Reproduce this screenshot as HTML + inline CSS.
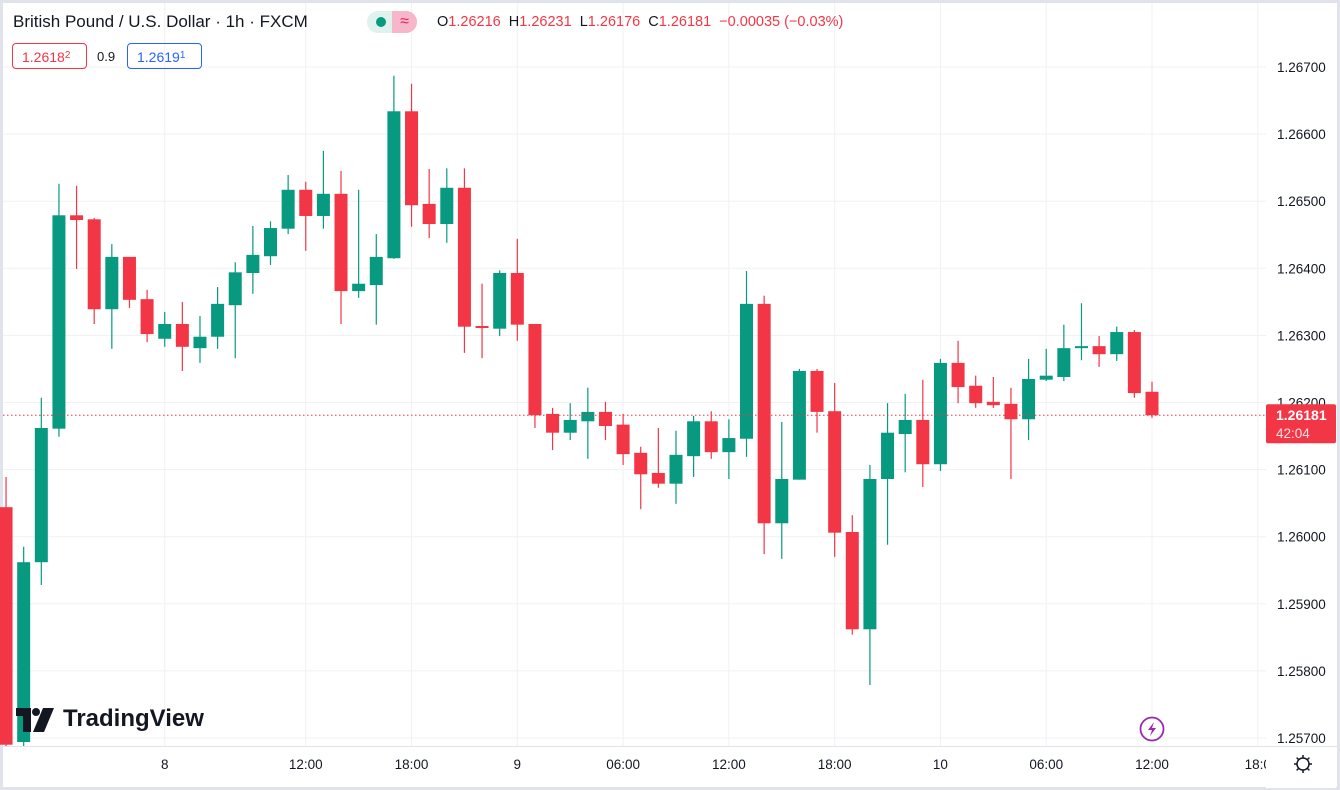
<!DOCTYPE html>
<html><head><meta charset="utf-8">
<style>
html,body{margin:0;padding:0;background:#fff;}
body{width:1340px;height:790px;overflow:hidden;position:relative;font-family:"Liberation Sans",sans-serif;}
svg{position:absolute;left:0;top:0;}
.hdr{position:absolute;left:13px;top:12px;font-size:17px;color:#131722;white-space:nowrap;}
.ohlc{position:absolute;left:437px;top:14px;font-size:14.5px;color:#131722;white-space:nowrap;}
.ohlc span.v{color:#f23645;}
.box{position:absolute;top:43px;height:26px;line-height:26px;border-radius:4px;font-size:14px;padding:0 9px;box-sizing:border-box;}
.box sup{font-size:10px;vertical-align:4px;line-height:0;}
</style></head>
<body>
<svg id="chart" width="1340" height="790"></svg>
<div class="hdr">British Pound / U.S. Dollar · 1h · FXCM</div>
<div style="position:absolute;left:367px;top:11px;width:50px;height:22px;border-radius:11px;background:#dff2ee;overflow:hidden;">
 <div style="position:absolute;left:9px;top:6px;width:10px;height:10px;border-radius:5px;background:#089981;"></div>
 <div style="position:absolute;left:25px;top:0;width:25px;height:22px;background:#f7b6c9;color:#e91e63;font-size:16px;text-align:center;line-height:22px;">≈</div>
</div>
<div class="ohlc">O<span class="v">1.26216</span>&nbsp; H<span class="v">1.26231</span>&nbsp; L<span class="v">1.26176</span>&nbsp; C<span class="v">1.26181</span>&nbsp; <span class="v">−0.00035 (−0.03%)</span></div>
<div class="box" style="left:12px;width:75px;border:1px solid #f23645;color:#f23645;">1.2618<sup>2</sup></div>
<div style="position:absolute;left:97px;top:49px;font-size:13px;color:#131722;">0.9</div>
<div class="box" style="left:127px;width:75px;border:1px solid #2962ff;color:#2962ff;">1.2619<sup>1</sup></div>
<svg style="left:16px;top:708px;" width="40" height="24" viewBox="0 0 40 24">
 <path d="M0 0 H15 V24 H7 V8 H0 Z" fill="#131722"/>
 <circle cx="20" cy="4" r="4" fill="#131722"/>
 <path d="M27 0 H38 L28 24 H17 Z" fill="#131722"/>
</svg>
<div style="position:absolute;left:63px;top:705px;font-size:24px;font-weight:bold;color:#131722;white-space:nowrap;">TradingView</div>
<script>
const opens=[1.26044,1.25694,1.25962,1.26161,1.26479,1.26473,1.26339,1.26417,1.26354,1.26295,1.26317,1.26281,1.26298,1.26345,1.26393,1.26418,1.26459,1.26517,1.26478,1.26511,1.26366,1.26375,1.26415,1.26634,1.26496,1.26466,1.26520,1.26314,1.26310,1.26393,1.26317,1.26183,1.26155,1.26172,1.26186,1.26167,1.26125,1.26095,1.26079,1.26120,1.26172,1.26126,1.26146,1.26347,1.26020,1.26085,1.26247,1.26187,1.26007,1.25862,1.26086,1.26153,1.26174,1.26108,1.26259,1.26225,1.26201,1.26198,1.26175,1.26234,1.26238,1.26281,1.26284,1.26272,1.26305,1.26216];
const highs=[1.26089,1.25985,1.26207,1.26526,1.26523,1.26475,1.26436,1.26417,1.26368,1.26335,1.26350,1.26329,1.26372,1.26409,1.26463,1.26470,1.26539,1.26529,1.26575,1.26545,1.26517,1.26451,1.26687,1.26675,1.26548,1.26549,1.26549,1.26377,1.26397,1.26444,1.26317,1.26192,1.26199,1.26222,1.26201,1.26183,1.26134,1.26162,1.26158,1.26180,1.26187,1.26175,1.26396,1.26359,1.26171,1.26250,1.26250,1.26229,1.26032,1.26107,1.26199,1.26213,1.26234,1.26265,1.26292,1.26240,1.26238,1.26222,1.26265,1.26280,1.26316,1.26348,1.26299,1.26313,1.26308,1.26231];
const lows=[1.25688,1.25688,1.25928,1.26149,1.26399,1.26317,1.26280,1.26341,1.26290,1.26283,1.26247,1.26259,1.26280,1.26266,1.26362,1.26405,1.26451,1.26426,1.26459,1.26317,1.26356,1.26316,1.26414,1.26462,1.26445,1.26438,1.26274,1.26266,1.26299,1.26292,1.26162,1.26129,1.26144,1.26116,1.26144,1.26107,1.26041,1.26073,1.26049,1.26089,1.26116,1.26086,1.26119,1.25974,1.25967,1.26085,1.26155,1.25970,1.25854,1.25779,1.25988,1.26096,1.26074,1.26098,1.26199,1.26192,1.26192,1.26086,1.26144,1.26232,1.26232,1.26263,1.26253,1.26262,1.26207,1.26177];
const closes=[1.25690,1.25962,1.26162,1.26479,1.26472,1.26339,1.26417,1.26353,1.26302,1.26317,1.26283,1.26298,1.26347,1.26394,1.26420,1.26460,1.26517,1.26478,1.26511,1.26366,1.26377,1.26417,1.26634,1.26494,1.26466,1.26520,1.26313,1.26311,1.26393,1.26316,1.26181,1.26155,1.26174,1.26186,1.26165,1.26123,1.26093,1.26079,1.26122,1.26172,1.26126,1.26147,1.26347,1.26020,1.26086,1.26247,1.26186,1.26006,1.25862,1.26086,1.26155,1.26174,1.26108,1.26259,1.26223,1.26199,1.26196,1.26175,1.26235,1.26240,1.26281,1.26284,1.26272,1.26305,1.26214,1.26181];
const priceTicks=[1.267,1.266,1.265,1.264,1.263,1.262,1.261,1.260,1.259,1.258,1.257];
const timeLabels=["8","12:00","18:00","9","06:00","12:00","18:00","10","06:00","12:00","18:0"];
const timeLabelIdx=[9,17,23,29,35,41,47,53,59,65,71];
const lastPrice=1.26181;

const NS="http://www.w3.org/2000/svg";
const svg=document.getElementById('chart');
const y=p=>67+(1.267-p)*67100;
const x=i=>1152-(65-i)*17.63;
function mk(tag,attrs,parent){const e=document.createElementNS(NS,tag);for(const k in attrs)e.setAttribute(k,attrs[k]);(parent||svg).appendChild(e);return e;}
mk('rect',{x:1.5,y:1.5,width:1337,height:787,fill:'none',stroke:'#e0e3eb','stroke-width':3});
const grid=mk('g',{});


priceTicks.forEach(p=>{mk('line',{x1:3,x2:1266,y1:y(p),y2:y(p),stroke:'#f0f1f3'},grid);});
timeLabelIdx.forEach(i=>{if(x(i)<1266)mk('line',{x1:x(i),x2:x(i),y1:3,y2:746,stroke:'#f0f1f3'},grid);});
mk('line',{x1:3,x2:1337,y1:746.5,y2:746.5,stroke:'#e0e3eb'});
const ya=mk('g',{});


priceTicks.forEach(p=>{const t=mk('text',{x:1277,y:y(p)+5,'font-size':13.5,fill:'#131722','font-family':'Liberation Sans, sans-serif'},ya);t.textContent=p.toFixed(5);});
const xa=mk('g',{});


timeLabels.forEach((l,k)=>{const t=mk('text',{x:x(timeLabelIdx[k]),y:769,'font-size':13.5,fill:'#131722','text-anchor':'middle','font-family':'Liberation Sans, sans-serif'},xa);t.textContent=l;});
mk('rect',{x:1266,y:748,width:70,height:40,fill:'#fff'});
const cg=mk('g',{});


opens.forEach((o,i)=>{
  const c=closes[i],col=c>=o?'#089981':'#f23645',cx=x(i);
  const g=mk('g',{},cg);
  
  
  mk('line',{x1:cx,x2:cx,y1:y(highs[i]),y2:y(lows[i]),stroke:col,'stroke-width':1.2},g);
  const t=y(Math.max(o,c)),b=y(Math.min(o,c));
  mk('rect',{x:cx-6.5,y:t,width:13,height:Math.max(1.5,b-t),fill:col},g);
});
const lp=mk('line',{x1:3,x2:1266,y1:y(lastPrice),y2:y(lastPrice),stroke:'#f23645','stroke-dasharray':'1.5,2.5'});


const lb=mk('g',{});


mk('rect',{x:1266,y:y(lastPrice)-11,width:70,height:39,fill:'#f23645',rx:2},lb);
const t1=mk('text',{x:1276,y:y(lastPrice)+5,'font-size':14,'font-weight':'bold',fill:'#fff','font-family':'Liberation Sans, sans-serif'},lb);t1.textContent=lastPrice.toFixed(5);
const t2=mk('text',{x:1276,y:y(lastPrice)+23,'font-size':13.5,fill:'#fde0e3','font-family':'Liberation Sans, sans-serif'},lb);t2.textContent='42:04';
const li=mk('g',{});


mk('circle',{cx:1152,cy:729,r:11.5,fill:'#fff',stroke:'#9c27b0','stroke-width':1.8},li);
mk('path',{d:'M1154 722 L1148 730 L1152 730 L1150 736 L1156 728 L1152 728 Z',fill:'#9c27b0'},li);
const gr=mk('g',{});


mk('circle',{cx:1303,cy:764,r:6,fill:'none',stroke:'#131722','stroke-width':1.5},gr);
for(let a=0;a<8;a++){const r=a*Math.PI/4;mk('line',{x1:1303+6*Math.cos(r),y1:764+6*Math.sin(r),x2:1303+9*Math.cos(r),y2:764+9*Math.sin(r),stroke:'#131722','stroke-width':1.5},gr);}
</script>
</body></html>
